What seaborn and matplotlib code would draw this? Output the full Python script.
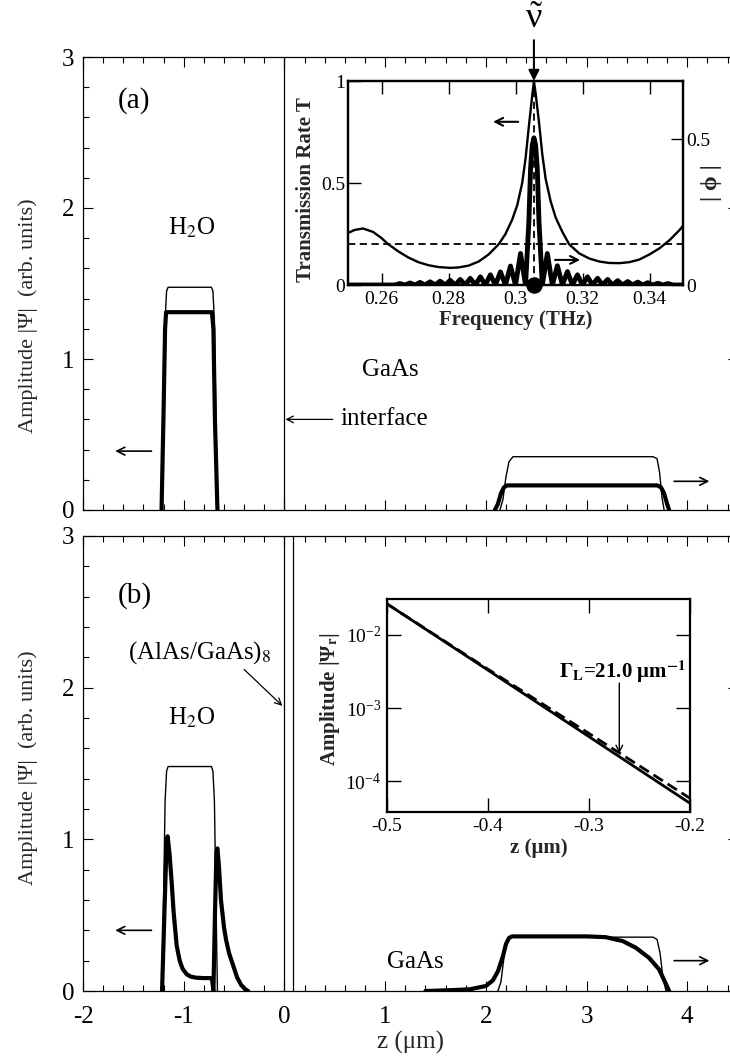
import pandas as pd
import matplotlib
matplotlib.use("Agg")
import matplotlib.pyplot as plt
from matplotlib.ticker import MultipleLocator, NullLocator
import seaborn as sns

# ---------------- data ----------------
# panel (a): |Psi| profiles, thin = reference, thick = resonant mode
thin_a_h2o_z = [-1.215, -1.20, -1.185, -1.17, -1.155, -0.725, -0.71, -0.695, -0.68, -0.665]
thin_a_h2o_v = [0.0, 0.6, 1.25, 1.45, 1.475, 1.475, 1.45, 1.25, 0.6, 0.0]
thick_a_h2o_z = [-1.22, -1.20, -1.185, -1.175, -0.72, -0.705, -0.69, -0.665]
thick_a_h2o_v = [0.0, 0.65, 1.2, 1.31, 1.31, 1.2, 0.6, 0.0]
thin_a_gaas_z = [2.14, 2.17, 2.20, 2.23, 2.27, 3.66, 3.70, 3.725, 3.75, 3.77]
thin_a_gaas_v = [0.0, 0.07, 0.22, 0.32, 0.353, 0.353, 0.34, 0.25, 0.08, 0.0]
thick_a_gaas_z = [2.09, 2.12, 2.15, 2.18, 2.21, 3.70, 3.74, 3.77, 3.80, 3.82]
thick_a_gaas_v = [0.0, 0.04, 0.11, 0.15, 0.163, 0.163, 0.15, 0.11, 0.04, 0.0]

# panel (b)
thin_b_h2o_z = thin_a_h2o_z
thin_b_h2o_v = [0.0, 0.6, 1.25, 1.45, 1.48, 1.48, 1.45, 1.25, 0.6, 0.0]
thick_b_left_z = [-1.215, -1.19, -1.17, -1.16, -1.14, -1.12, -1.10, -1.07, -1.04,
                  -1.01, -0.97, -0.93, -0.88, -0.80, -0.72, -0.712, -0.705]
thick_b_left_v = [0.0, 0.55, 0.98, 1.02, 0.9, 0.72, 0.52, 0.3, 0.2,
                  0.145, 0.11, 0.095, 0.088, 0.085, 0.085, 0.04, 0.0]
thick_b_right_z = [-0.705, -0.69, -0.675, -0.665, -0.65, -0.63, -0.60, -0.58,
                   -0.55, -0.51, -0.47, -0.43, -0.39, -0.36]
thick_b_right_v = [0.0, 0.5, 0.92, 0.94, 0.82, 0.6, 0.42, 0.34,
                   0.25, 0.17, 0.09, 0.04, 0.012, 0.0]
thin_b_gaas_z = [2.12, 2.15, 2.18, 2.21, 2.24, 3.66, 3.70, 3.73, 3.76, 3.79]
thin_b_gaas_v = [0.0, 0.06, 0.22, 0.33, 0.355, 0.355, 0.34, 0.25, 0.08, 0.0]
thick_b_gaas_z = [1.40, 1.64, 1.84, 2.0, 2.07, 2.12, 2.17, 2.20, 2.23, 2.26,
                  3.0, 3.19, 3.36, 3.49, 3.62, 3.72, 3.79, 3.82]
thick_b_gaas_v = [0.0, 0.005, 0.011, 0.033, 0.07, 0.13, 0.23, 0.31, 0.35, 0.36,
                  0.36, 0.355, 0.329, 0.285, 0.219, 0.143, 0.044, 0.0]

# inset (a): transmission T (left) and |phi| (right) vs frequency
t_freq = [0.250, 0.252, 0.2545, 0.2575, 0.260, 0.262, 0.265, 0.268, 0.271, 0.274,
          0.277, 0.2805, 0.283, 0.286, 0.289, 0.292, 0.295, 0.297, 0.299, 0.3005,
          0.302, 0.303, 0.304, 0.305, 0.3055, 0.306, 0.307, 0.308, 0.309, 0.3105,
          0.312, 0.314, 0.316, 0.319, 0.322, 0.325, 0.328, 0.331, 0.334, 0.337,
          0.340, 0.343, 0.346, 0.349, 0.350]
t_val = [0.255, 0.27, 0.277, 0.26, 0.23, 0.2, 0.165, 0.135, 0.112, 0.097,
         0.088, 0.084, 0.086, 0.095, 0.115, 0.15, 0.2, 0.25, 0.32, 0.39,
         0.5, 0.62, 0.78, 0.93, 1.0, 0.94, 0.8, 0.64, 0.52, 0.41,
         0.33, 0.26, 0.2, 0.155, 0.13, 0.115, 0.108, 0.107, 0.112, 0.125,
         0.15, 0.18, 0.22, 0.27, 0.29]
phi_freq = [
    0.250, 0.264, 0.2655, 0.267, 0.2685, 0.270, 0.2715, 0.273, 0.2745, 0.276,
    0.2775, 0.279, 0.2805, 0.282, 0.2835, 0.285, 0.2865, 0.288, 0.2895, 0.291,
    0.2925, 0.294, 0.2955, 0.297, 0.2985, 0.300, 0.3015, 0.303,
    0.304, 0.3045, 0.305, 0.3055, 0.306, 0.3065, 0.307, 0.308,
    0.3095, 0.311, 0.3125, 0.314, 0.3155, 0.317, 0.3185, 0.320, 0.3215, 0.323,
    0.3245, 0.326, 0.3275, 0.329, 0.3305, 0.332, 0.3335, 0.335, 0.3365, 0.338,
    0.3395, 0.341, 0.3425, 0.344, 0.3455, 0.347, 0.350,
]
phi_amp = [
    0.0, 0.0, 0.005, 0.0, 0.007, 0.0, 0.009, 0.0, 0.011, 0.0,
    0.013, 0.0, 0.016, 0.0, 0.019, 0.0, 0.023, 0.0, 0.028, 0.0,
    0.035, 0.0, 0.045, 0.0, 0.065, 0.0, 0.108, 0.0,
    0.22, 0.40, 0.48, 0.505, 0.48, 0.40, 0.22, 0.0,
    0.108, 0.0, 0.066, 0.0, 0.046, 0.0, 0.035, 0.0, 0.028, 0.0,
    0.023, 0.0, 0.019, 0.0, 0.015, 0.0, 0.012, 0.0, 0.010, 0.0,
    0.008, 0.0, 0.006, 0.0, 0.005, 0.0, 0.0,
]
nu_peak = 0.3055
t_ref = 0.2
freq_ticks = [0.26, 0.28, 0.30, 0.32, 0.34]
freq_tick_labels = ["0.26", "0.28", "0.3", "0.32", "0.34"]
t_ticks = [0, 0.5, 1]
t_tick_labels = ["0", "0.5", "1"]
phi_ticks = [0, 0.5]
phi_tick_labels = ["0", "0.5"]

# inset (b): decay of |Psi_r| in the mirror (log scale)
decay_z = [-0.5, -0.4, -0.3, -0.2]
decay_calc = [0.0266, 3.3e-3, 4.07e-4, 5.0e-5]
decay_fit = [0.0266, 3.4e-3, 4.5e-4, 5.85e-5]
decay_ticks = [-0.5, -0.4, -0.3, -0.2]
decay_tick_labels = ["-0.5", "-0.4", "-0.3", "-0.2"]
decay_yticks = [1e-4, 1e-3, 1e-2]

interface_z = 0.0
dbr_edges = [0.0, 0.09]

# ---------------- style ----------------
sns.set_theme(style="ticks")
plt.rcParams["font.family"] = ["Liberation Serif", "DejaVu Serif"]
plt.rcParams["mathtext.fontset"] = "stix"
plt.rcParams["axes.unicode_minus"] = False
plt.rcParams["xtick.direction"] = "in"
plt.rcParams["ytick.direction"] = "in"
plt.rcParams["axes.linewidth"] = 0.9
plt.rcParams["axes.edgecolor"] = "black"
plt.rcParams["xtick.color"] = "black"
plt.rcParams["ytick.color"] = "black"
plt.rcParams["text.color"] = "black"


def curve_frame(*segments):
    frames = [pd.DataFrame({"z": z, "amp": v, "seg": i}) for i, (z, v) in enumerate(segments)]
    return pd.concat(frames, ignore_index=True)


def draw(ax, df, lw):
    sns.lineplot(data=df, x="z", y="amp", units="seg", estimator=None, sort=False,
                 color="black", lw=lw, ax=ax, legend=False)


def arrow(ax, start, end, lw=1.2, ms=14, **kw):
    ax.annotate("", xy=end, xytext=start, annotation_clip=False,
                arrowprops=dict(arrowstyle="->", lw=lw, color="black",
                                shrinkA=0, shrinkB=0, mutation_scale=ms), **kw)


def style_main(ax):
    ax.set_xlim(-2, 4.5)
    ax.set_ylim(0, 3)
    ax.xaxis.set_major_locator(MultipleLocator(1))
    ax.xaxis.set_minor_locator(MultipleLocator(0.2))
    ax.yaxis.set_major_locator(MultipleLocator(1))
    ax.yaxis.set_minor_locator(MultipleLocator(0.2))
    ax.tick_params(which="both", top=True, width=0.8)
    ax.tick_params(which="major", length=7.5, right=True, labelsize=18)
    ax.tick_params(which="minor", length=4.5, right=False)
    ax.tick_params(axis="x", pad=11)
    ax.tick_params(axis="y", pad=6)
    ax.set_xlabel("")
    ax.set_ylabel("Amplitude |Ψ|  (arb. units)", fontsize=16)


fig = plt.figure(figsize=(7.3, 10.57), dpi=100)
ax_a = fig.add_axes([83 / 730, 1 - 510 / 1057, 654.6 / 730, 453 / 1057])
ax_b = fig.add_axes([83 / 730, 66 / 1057, 654.6 / 730, 455 / 1057])

# ---------------- panel (a) ----------------
ax_a.axvline(interface_z, color="black", lw=0.9)
draw(ax_a, curve_frame((thin_a_h2o_z, thin_a_h2o_v), (thin_a_gaas_z, thin_a_gaas_v)), 1.0)
draw(ax_a, curve_frame((thick_a_h2o_z, thick_a_h2o_v), (thick_a_gaas_z, thick_a_gaas_v)), 3.0)
style_main(ax_a)
ax_a.tick_params(labelbottom=False)
ax_a.yaxis.set_label_coords(-0.069, 0.43)
ax_a.text(-1.49, 2.71, "(a)", fontsize=21, ha="center", va="center")
ax_a.text(-0.92, 1.87, "H$_2$O", fontsize=18, ha="center", va="center")
ax_a.text(1.05, 0.93, "GaAs", fontsize=18, ha="center", va="center")
ax_a.text(0.56, 0.6, "interface", fontsize=18, ha="left", va="center")
arrow(ax_a, (0.48, 0.6), (0.01, 0.6), lw=0.9, ms=12)
arrow(ax_a, (-1.32, 0.39), (-1.68, 0.39))
arrow(ax_a, (3.87, 0.19), (4.22, 0.19))

# ---------------- panel (b) ----------------
for zz in dbr_edges:
    ax_b.axvline(zz, color="black", lw=0.9)
draw(ax_b, curve_frame((thin_b_h2o_z, thin_b_h2o_v), (thin_b_gaas_z, thin_b_gaas_v)), 1.0)
draw(ax_b, curve_frame((thick_b_left_z, thick_b_left_v), (thick_b_right_z, thick_b_right_v),
                       (thick_b_gaas_z, thick_b_gaas_v)), 3.0)
style_main(ax_b)
ax_b.set_xlabel("z (μm)", fontsize=18, labelpad=2)
ax_b.yaxis.set_label_coords(-0.069, 0.49)
ax_b.text(-1.49, 2.61, "(b)", fontsize=21, ha="center", va="center")
ax_b.text(-0.92, 1.8, "H$_2$O", fontsize=18, ha="center", va="center")
ax_b.text(-0.84, 2.23, "(AlAs/GaAs)$_8$", fontsize=18, ha="center", va="center")
arrow(ax_b, (-0.40, 2.12), (-0.02, 1.88), lw=0.9, ms=12)
ax_b.text(1.3, 0.19, "GaAs", fontsize=18, ha="center", va="center")
arrow(ax_b, (-1.32, 0.4), (-1.68, 0.4))
arrow(ax_b, (3.87, 0.2), (4.22, 0.2))

# ---------------- inset (a) ----------------
ins_a = fig.add_axes([348 / 730, 1 - 285 / 1057, 335 / 730, 204 / 1057])
ins_a.axhline(t_ref, color="black", lw=1.3, ls=(0, (4, 2.5)))
ins_a.axvline(nu_peak, color="black", lw=1.3, ls=(0, (4, 2.5)))
sns.lineplot(x=t_freq, y=t_val, sort=False, color="black", lw=1.7, ax=ins_a)
ins_a.set_xlim(0.25, 0.35)
ins_a.set_ylim(0, 1)
ins_a.set_xticks(freq_ticks, freq_tick_labels)
ins_a.set_yticks(t_ticks, t_tick_labels)
ins_a.tick_params(which="both", top=True, right=False, length=9, width=1.0,
                  labelsize=14, pad=2)
ins_a.tick_params(axis="x", pad=4)
ins_a.set_xlabel("Frequency (THz)", fontsize=15, fontweight="bold")
ins_a.set_ylabel("Transmission Rate T", fontsize=15, fontweight="bold")
ins_a.xaxis.set_label_coords(0.5, -0.125)
ins_a.yaxis.set_label_coords(-0.095, 0.47)
arrow(ins_a, (0.3008, 0.8), (0.2933, 0.8), lw=1.5)
arrow(ins_a, (0.3118, 0.123), (0.3193, 0.123), lw=1.5)
trans = ins_a.get_xaxis_transform()
ins_a.text(nu_peak, 1.30, r"$\mathregular{\tilde{ν}}$", transform=trans, fontsize=26,
           ha="center", va="center")
ins_a.annotate("", xy=(nu_peak, 1.0), xycoords=trans, xytext=(nu_peak, 1.2),
               textcoords=trans, annotation_clip=False,
               arrowprops=dict(arrowstyle="-|>", lw=1.5, color="black",
                               shrinkA=0, shrinkB=0, mutation_scale=16))

ins_a_r = ins_a.twinx()
sns.lineplot(x=phi_freq, y=phi_amp, sort=False, color="black", lw=3.5, ax=ins_a_r)
sns.scatterplot(x=[nu_peak], y=[0.0], s=120, color="black", edgecolor="black",
                ax=ins_a_r, clip_on=False, zorder=10)
ins_a_r.set_ylim(0, 0.7)
ins_a_r.set_yticks(phi_ticks, phi_tick_labels)
ins_a_r.tick_params(axis="y", length=9, width=1.0, labelsize=14, pad=2)
ins_a_r.set_ylabel("| ϕ |", fontsize=17, fontweight="bold", rotation=90)
ins_a_r.yaxis.set_label_coords(1.055, 0.5)
for ax in (ins_a, ins_a_r):
    for sp in ax.spines.values():
        sp.set_linewidth(1.6)

# ---------------- inset (b) ----------------
ins_b = fig.add_axes([387 / 730, 1 - 812 / 1057, 303 / 730, 213 / 1057])
sns.lineplot(x=decay_z, y=decay_fit, sort=False, color="black", lw=2.0,
             ls=(0, (4, 2)), ax=ins_b)
sns.lineplot(x=decay_z, y=decay_calc, sort=False, color="black", lw=2.0, ax=ins_b)
ins_b.set_yscale("log")
ins_b.set_ylim(3.8e-5, 3.1e-2)
ins_b.set_xlim(-0.5, -0.2)
ins_b.set_xticks(decay_ticks, decay_tick_labels)
ins_b.set_yticks(decay_yticks)
ins_b.yaxis.set_minor_locator(NullLocator())
ins_b.tick_params(which="major", top=True, right=True, length=10, width=1.0,
                  labelsize=14, pad=4)
ins_b.set_xlabel("z (μm)", fontsize=15, fontweight="bold")
ins_b.set_ylabel("Amplitude |Ψ$_{\\mathbf{r}}$|", fontsize=15, fontweight="bold")
ins_b.xaxis.set_label_coords(0.5, -0.12)
ins_b.yaxis.set_label_coords(-0.15, 0.53)
for sp in ins_b.spines.values():
    sp.set_linewidth(1.6)
ins_b.text(-0.267, 3.1e-3, r"$\mathbf{\Gamma_L}$=21.0 μm$^{\mathbf{-1}}$",
           fontsize=15, fontweight="bold", ha="center", va="center")
ins_b.annotate("", xy=(-0.27, 2.4e-4), xytext=(-0.27, 2.2e-3),
               arrowprops=dict(arrowstyle="->", lw=1.0, color="black",
                               shrinkA=0, shrinkB=0, mutation_scale=12))

fig.savefig("out.png", dpi=100)
